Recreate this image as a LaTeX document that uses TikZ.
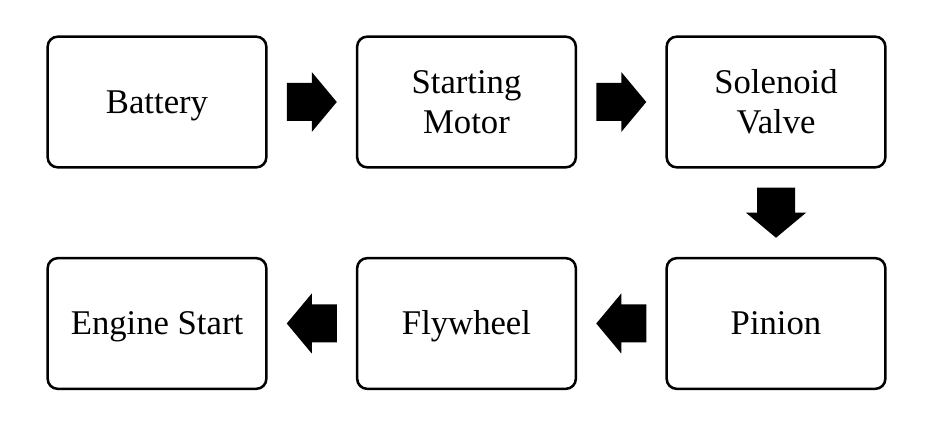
\documentclass[tikz,border=0pt]{standalone}
\usepackage{fontspec}
\setmainfont{Liberation Serif}
\usetikzlibrary{calc}

\tikzset{
  stage/.style={draw, line width=1.9pt, rounded corners=7.5pt,
    minimum width=164pt, minimum height=98pt, align=center,
    font=\fontsize{26}{30}\selectfont},
  oneline/.style={stage, text height=17pt, text depth=0pt},
  pics/blkarrow/.style={code={
    \fill[black] (-25,-19) -- (0,-19) -- (0,-30) -- (25,0) -- (0,30) -- (0,19) -- (-25,19) -- cycle;
  }}
}

\begin{document}
\begin{tikzpicture}[x=0.75pt,y=-0.75pt]
\useasboundingbox (0,0) rectangle (931,427);

% Define the stages of the starting system
\node[oneline] (battery) at (157,102) {Battery};
\node[stage] (motor) at (466.5,102) {Starting\\Motor};
\node[stage] (solenoid) at (776,102) {Solenoid\\Valve};
\node[oneline] (pinion) at (776,323.5) {Pinion};
\node[oneline] (flywheel) at (466.5,323.5) {Flywheel};
\node[oneline] (engine) at (157,323.5) {Engine Start};

% Add the block arrows between the stages
\pic at ($(battery.east)!0.5!(motor.west)$) {blkarrow};
\pic at ($(motor.east)!0.5!(solenoid.west)$) {blkarrow};
\pic[rotate=-90] at ($(solenoid.south)!0.5!(pinion.north)$) {blkarrow};
\pic[rotate=180] at ($(pinion.west)!0.5!(flywheel.east)$) {blkarrow};
\pic[rotate=180] at ($(flywheel.west)!0.5!(engine.east)$) {blkarrow};
\end{tikzpicture}
\end{document}
